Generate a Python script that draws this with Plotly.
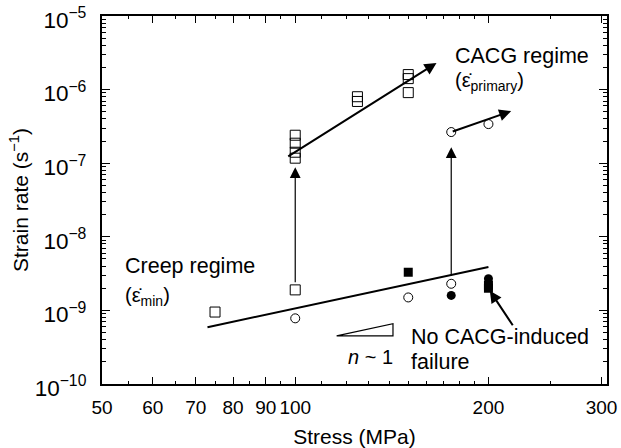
import numpy as np
import plotly.graph_objects as go

# ---------------- data ----------------
# open squares
sq_open_x = [75, 100, 100, 100, 100, 100, 125, 125, 150, 150, 150]
sq_open_y = [0.95e-9, 1.9e-9, 2.4e-7, 1.87e-7, 1.41e-7, 1.17e-7, 0.80e-6, 0.69e-6, 1.6e-6, 1.41e-6, 0.91e-6]
# open circles
ci_open_x = [100, 150, 175, 175, 200]
ci_open_y = [0.78e-9, 1.5e-9, 2.3e-9, 2.65e-7, 3.4e-7]
# filled squares
sq_fill_x = [150, 200, 200]
sq_fill_y = [3.3e-9, 2.2e-9, 2.0e-9]
# filled circles
ci_fill_x = [175, 200]
ci_fill_y = [1.6e-9, 2.7e-9]

# trend lines
creep_x = [73, 200]
creep_y = [5.9e-10, 3.9e-9]
cacg1_x = [97, 166]
cacg1_y = [1.2e-7, 2.3e-6]
cacg2_x = [175, 217]
cacg2_y = [2.65e-7, 5.1e-7]

# vertical transition arrows (tail -> head)
vert1_x = [100, 100]
vert1_y = [2.3e-9, 0.88e-7]
vert2_x = [175, 175]
vert2_y = [2.8e-9, 1.65e-7]

# slope triangle
tri_x = [116, 142, 142, 116]
tri_y = [4.5e-10, 6.6e-10, 4.5e-10, 4.5e-10]

# pointer arrow (tail -> head)
ptr_x = [219, 201]
ptr_y = [6.0e-10, 1.85e-9]

x_ticks = [50, 60, 70, 80, 90, 100, 200, 300]
x_minor = [55, 65, 75, 85, 95, 110, 120, 130, 140, 150, 160, 170, 180, 190, 250]

FONT = "Arial, Liberation Sans, sans-serif"

fig = go.Figure()

def add_line(xs, ys, width=2):
    fig.add_trace(go.Scatter(x=xs, y=ys, mode="lines",
                             line=dict(color="black", width=width),
                             hoverinfo="skip", showlegend=False))

add_line(creep_x, creep_y)
add_line(tri_x, tri_y, width=1.2)

fig.add_trace(go.Scatter(x=sq_open_x, y=sq_open_y, mode="markers",
                         marker=dict(symbol="square-open", size=10, color="black",
                                     line=dict(width=1)), showlegend=False))
fig.add_trace(go.Scatter(x=ci_open_x, y=ci_open_y, mode="markers",
                         marker=dict(symbol="circle", size=9, color="white",
                                     line=dict(width=1, color="black")), showlegend=False))
fig.add_trace(go.Scatter(x=sq_fill_x, y=sq_fill_y, mode="markers",
                         marker=dict(symbol="square", size=9, color="black"), showlegend=False))
fig.add_trace(go.Scatter(x=ci_fill_x, y=ci_fill_y, mode="markers",
                         marker=dict(symbol="circle", size=9, color="black"), showlegend=False))

def arrow(xs, ys, width=2, head=2, size=1.2):
    fig.add_annotation(x=np.log10(xs[1]), y=np.log10(ys[1]),
                       ax=np.log10(xs[0]), ay=np.log10(ys[0]),
                       xref="x", yref="y", axref="x", ayref="y",
                       showarrow=True, text="", arrowhead=head, arrowsize=size,
                       arrowwidth=width, arrowcolor="black")

arrow(cacg1_x, cacg1_y)
arrow(cacg2_x, cacg2_y)
arrow(vert1_x, vert1_y, width=1.2, size=1.8)
arrow(vert2_x, vert2_y, width=1.2, size=1.8)
arrow(ptr_x, ptr_y, width=2)

def text(x, y, s, size=21.5):
    fig.add_annotation(x=np.log10(x), y=np.log10(y), xref="x", yref="y",
                       text=s, showarrow=False, xanchor="left", yanchor="middle",
                       font=dict(family=FONT, size=size, color="black"))

text(176, 2.9e-6, "CACG regime")
text(176, 1.3e-6, "(\u03b5\u0307<sub>primary</sub>)", size=20)
text(54, 4.0e-9, "Creep regime")
text(54, 1.55e-9, "(\u03b5\u0307<sub>min</sub>)", size=20)
text(150.5, 4.4e-10, "No CACG-induced")
text(150.5, 2.0e-10, "failure")
fig.add_annotation(x=np.log10(131), y=np.log10(2.3e-10), xref="x", yref="y",
                   text="<i>n</i> ~ 1", showarrow=False, xanchor="center",
                   font=dict(family=FONT, size=20, color="black"))

fig.update_xaxes(type="log", range=[np.log10(50), np.log10(306)], automargin=False,
                 tickmode="array", tickvals=x_ticks, ticktext=[str(v) for v in x_ticks],
                 ticks="inside", ticklen=7, tickwidth=1.2, tickcolor="black",
                 minor=dict(tickmode="array", tickvals=x_minor, ticks="inside",
                            ticklen=3, tickcolor="black", showgrid=False),
                 showline=True, linecolor="black", linewidth=2, mirror="allticks",
                 showgrid=False, zeroline=False, ticklabelstandoff=5,
                 tickfont=dict(family=FONT, size=19, color="black"),
                 title=dict(text="Stress (MPa)", standoff=13,
                            font=dict(family=FONT, size=21, color="black")))
fig.update_yaxes(type="log", range=[-10, -5], dtick=1, exponentformat="power",
                 automargin=False,
                 ticks="inside", ticklen=8, tickwidth=1.2, tickcolor="black",
                 minor=dict(ticks="inside", ticklen=4, tickcolor="black", showgrid=False),
                 showline=True, linecolor="black", linewidth=2, mirror="allticks",
                 showgrid=False, zeroline=False, ticklabelstandoff=10, ticklabelshift=4,
                 tickfont=dict(family=FONT, size=18, color="black"),
                 title=dict(text="Strain rate (s<sup>\u22121</sup>)", standoff=0,
                            font=dict(family=FONT, size=21, color="black")))

fig.update_layout(width=621, height=448, plot_bgcolor="white", paper_bgcolor="white",
                  margin=dict(l=102, r=14, t=16, b=64), showlegend=False)

fig.write_html("out.html")
